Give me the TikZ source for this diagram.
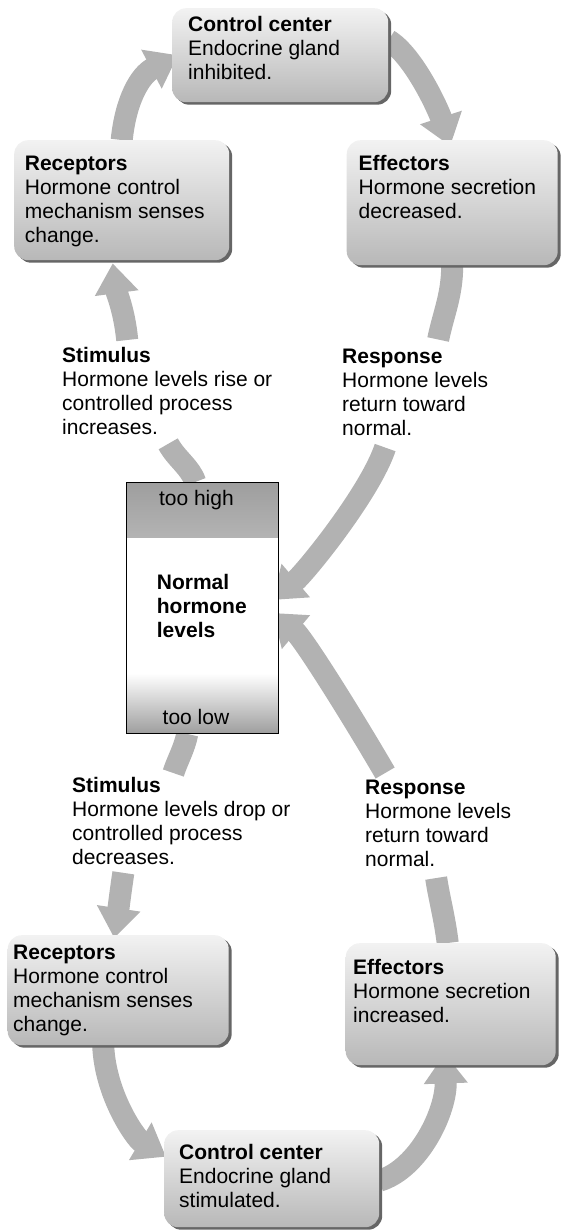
\documentclass[tikz,border=0pt]{standalone}
\usepackage{fontspec}
\setmainfont{Liberation Sans}
\usetikzlibrary{arrows.meta,shadows}
\pgfdeclarelayer{bg}
\pgfsetlayers{bg,main}
\begin{document}
\begin{tikzpicture}[x=1pt,y=1pt,
  box/.style={rounded corners=14pt, top color=black!5, bottom color=black!28,
    drop shadow={shadow xshift=3pt, shadow yshift=-2.5pt, fill=black!60, opacity=1},
    anchor=north west, inner sep=0pt},
  txt/.style={anchor=north west, align=left, inner sep=0pt, font=\fontsize{21}{24}\selectfont},
  flow/.style={line width=22pt, draw=black!30, -{Triangle[length=30pt, width=42pt]}},
  flowline/.style={line width=22pt, draw=black!30},
  lvl/.style={inner sep=0pt, font=\fontsize{21}{24}\selectfont}
]
\useasboundingbox (0,0) rectangle (561,-1230);

% boxes
\node[box, minimum width=216pt, minimum height=94pt] (cc1) at (172,-8) {};
\node[box, minimum width=215pt, minimum height=120pt] (rec1) at (14,-140) {};
\node[box, minimum width=211pt, minimum height=125pt] (eff1) at (346.5,-140) {};
\node[box, minimum width=221pt, minimum height=110pt] (rec2) at (7.5,-935) {};
\node[box, minimum width=210pt, minimum height=122pt] (eff2) at (345.5,-943) {};
\node[box, minimum width=215pt, minimum height=97pt] (cc2) at (164,-1130) {};

% box texts
\node[txt] (cc1t) at (188,-16.5) {\textbf{Control center}\\Endocrine gland\\inhibited.};
\node[txt] (rec1t) at (24.7,-155.5) {\textbf{Receptors}\\Hormone control\\mechanism senses\\change.};
\node[txt] (eff1t) at (358.5,-155.5) {\textbf{Effectors}\\Hormone secretion\\decreased.};
\node[txt] (rec2t) at (13,-944.5) {\textbf{Receptors}\\Hormone control\\mechanism senses\\change.};
\node[txt] (eff2t) at (353,-959.5) {\textbf{Effectors}\\Hormone secretion\\increased.};
\node[txt] (cc2t) at (179,-1144.5) {\textbf{Control center}\\Endocrine gland\\stimulated.};

% stimulus / response labels
\node[txt] (stim1t) at (62,-347.5) {\textbf{Stimulus}\\Hormone levels rise or\\controlled process\\increases.};
\node[txt] (resp1t) at (342,-348.5) {\textbf{Response}\\Hormone levels\\return toward\\normal.};
\node[txt] (stim2t) at (72,-777.5) {\textbf{Stimulus}\\Hormone levels drop or\\controlled process\\decreases.};
\node[txt] (resp2t) at (365,-779.5) {\textbf{Response}\\Hormone levels\\return toward\\normal.};

% normal levels box
\node[draw=black, line width=0.9pt, fill=white, minimum width=152.4pt, minimum height=251pt,
  anchor=north west, inner sep=0pt,
  path picture={
    \shade[top color=black!38, bottom color=white]
      (path picture bounding box.north west) rectangle ([yshift=-55pt]path picture bounding box.north east);
    \shade[top color=white, bottom color=black!38]
      ([yshift=60pt]path picture bounding box.south west) rectangle (path picture bounding box.south east);
  }] (nb) at (125.6,-482) {};
\node[lvl] (hi) at (196.4,-500) {too high};
\node[lvl] (lo) at (196,-717) {too low};
\node[txt, font=\fontsize{21}{24}\selectfont\bfseries] (nl) at (156.7,-574.5) {Normal\\hormone\\levels};

% arrows
\begin{pgfonlayer}{bg}
\draw[flow] (rec1.north) .. controls +(4,40) and +(-38,-20) .. ([xshift=6pt]cc1.west);
\draw[flow] ([yshift=15pt]cc1.east) .. controls +(25,-15) and +(-12,37) .. ([xshift=-2pt,yshift=-6pt]eff1.north);
\draw[flowline] (eff1.south) .. controls +(0,-30) and +(5,25) .. ([xshift=23pt,yshift=9pt]resp1t.north);
\draw[flow] ([xshift=-30pt,yshift=-12pt]resp1t.south) .. controls +(-15,-45) and +(33,28) .. ([xshift=-6pt,yshift=8pt]nb.east);
\draw[flowline] ([xshift=-7pt]nb.north) .. controls +(-5,15) and +(8,-15) .. ([xshift=1pt,yshift=-8.5pt]stim1t.south);
\draw[flow] ([xshift=-40pt,yshift=7.5pt]stim1t.north) .. controls +(-3,30) and +(4,-30) .. ([xshift=-9pt,yshift=-3pt]rec1.south);

\draw[flowline] ([xshift=-15pt]nb.south) .. controls +(-3,-15) and +(5,15) .. ([xshift=-8pt,yshift=4.5pt]stim2t.north);
\draw[flow] ([xshift=-58pt,yshift=-7.5pt]stim2t.south) .. controls +(-3,-20) and +(3,20) .. ([xshift=-4pt,yshift=-3pt]rec2.north);
\draw[flow] ([xshift=-15pt]rec2.south) .. controls +(2,-50) and +(-30,18) .. ([xshift=2pt,yshift=22pt]cc2.west);
\draw[flow] ([yshift=-2pt]cc2.east) .. controls +(40,12) and +(2,-57) .. ([xshift=-6pt,yshift=12pt]eff2.south);
\draw[flowline] ([xshift=-3pt]eff2.north) .. controls +(-3,25) and +(3,-20) .. ([xshift=-2pt,yshift=-11.5pt]resp2t.south);
\draw[flow] ([xshift=-53pt,yshift=6.5pt]resp2t.north) .. controls +(-35,60) and +(30,-25) .. ([xshift=-6pt,yshift=-5pt]nb.east);
\end{pgfonlayer}
\end{tikzpicture}
\end{document}
